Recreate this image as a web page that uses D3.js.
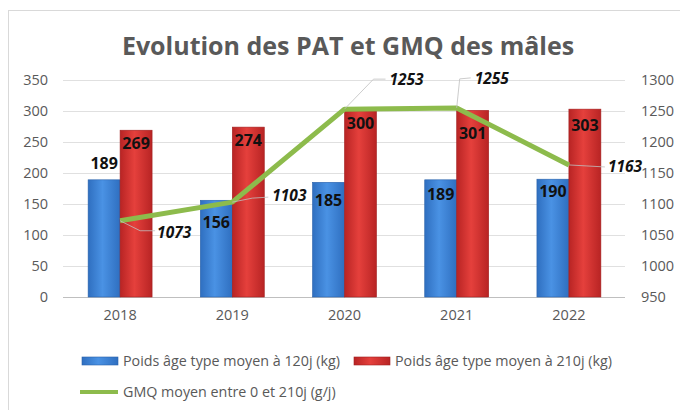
<!DOCTYPE html>
<html>
<head>
<meta charset="utf-8">
<script src="https://cdn.jsdelivr.net/npm/d3@7"></script>
<style>
  body { margin: 0; background: #fff; }
  svg { font-family: "Open Sans", "Liberation Sans", sans-serif; }
</style>
</head>
<body>
<div id="chart"></div>
<script>
// data
const years = ['2018', '2019', '2020', '2021', '2022'];
const poids120 = [189, 156, 185, 189, 190];
const poids210 = [269, 274, 300, 301, 303];
const gmq = [1073, 1103, 1253, 1255, 1163];
const leftTicks = [0, 50, 100, 150, 200, 250, 300, 350];
const rightTicks = [950, 1000, 1050, 1100, 1150, 1200, 1250, 1300];

const width = 680, height = 410;

const svg = d3.select('#chart').append('svg')
  .attr('width', width)
  .attr('height', height);

// gradients for the bars
const defs = svg.append('defs');
function barGradient(id, edge, mid) {
  const g = defs.append('linearGradient').attr('id', id)
    .attr('x1', '0%').attr('x2', '100%').attr('y1', '0%').attr('y2', '0%');
  g.append('stop').attr('offset', '0%').attr('stop-color', edge);
  g.append('stop').attr('offset', '45%').attr('stop-color', mid);
  g.append('stop').attr('offset', '100%').attr('stop-color', edge);
}
barGradient('gBlue', '#2f6fc0', '#4a92e4');
barGradient('gRed', '#b82424', '#e5403c');

// chart border
svg.append('rect')
  .attr('x', 8.5).attr('y', 10.5)
  .attr('width', 672).attr('height', 400)
  .attr('fill', 'none').attr('stroke', '#d9d9d9');

// title
svg.append('text')
  .attr('x', 348).attr('y', 55)
  .attr('text-anchor', 'middle')
  .attr('font-size', 25).attr('font-weight', 'bold')
  .attr('fill', '#595959')
  .text('Evolution des PAT et GMQ des mâles');

// scales
const x = d3.scaleBand().domain(years).range([64, 625]);
const xs = d3.scaleBand().domain(['p120', 'p210'])
  .range([x.bandwidth() * 0.215, x.bandwidth() * 0.785]);
const yL = d3.scaleLinear().domain([0, 350]).range([297, 80]);
const yR = d3.scaleLinear().domain([950, 1300]).range([297, 80]);

// grid
svg.append('g').selectAll('line')
  .data(leftTicks)
  .join('line')
  .attr('x1', 63).attr('x2', 625)
  .attr('y1', d => Math.round(yL(d)) + 0.5)
  .attr('y2', d => Math.round(yL(d)) + 0.5)
  .attr('stroke', d => d === 0 ? '#bfbfbf' : '#e0e0e0');

function styleAxis(g) {
  g.select('.domain').remove();
  g.selectAll('text')
    .attr('font-size', 14.5).attr('fill', '#595959')
    .attr('font-family', '"Open Sans", sans-serif');
}

// left axis
svg.append('g')
  .attr('transform', 'translate(48,0)')
  .call(d3.axisLeft(yL).tickValues(leftTicks).tickSize(0).tickPadding(0))
  .call(styleAxis);

// right axis
svg.append('g')
  .attr('transform', 'translate(641,0)')
  .call(d3.axisRight(yR).tickValues(rightTicks).tickFormat(d3.format('d')).tickSize(0).tickPadding(0))
  .call(styleAxis);

// bottom axis
svg.append('g')
  .attr('transform', 'translate(0,310)')
  .call(d3.axisBottom(x).tickSize(0).tickPadding(0))
  .call(styleAxis);

// bars
const groups = svg.append('g').selectAll('g')
  .data(years)
  .join('g')
  .attr('transform', d => `translate(${x(d)},0)`);

groups.append('rect')
  .attr('x', xs('p120'))
  .attr('width', xs.bandwidth())
  .attr('y', (d, i) => yL(poids120[i]))
  .attr('height', (d, i) => yL(0) - yL(poids120[i]))
  .attr('fill', 'url(#gBlue)')
  .attr('stroke', '#2a62aa').attr('stroke-width', 0.6);

groups.append('rect')
  .attr('x', xs('p210'))
  .attr('width', xs.bandwidth())
  .attr('y', (d, i) => yL(poids210[i]))
  .attr('height', (d, i) => yL(0) - yL(poids210[i]))
  .attr('fill', 'url(#gRed)')
  .attr('stroke', '#a21f1f').attr('stroke-width', 0.6);

// bar labels (dy from bar top to baseline)
const blueDy = [-11, 28, 24, 20, 18];
const redDy = [19, 19, 18, 29, 22];

groups.append('text')
  .attr('x', xs('p120') + xs.bandwidth() / 2)
  .attr('y', (d, i) => yL(poids120[i]) + blueDy[i])
  .attr('text-anchor', 'middle')
  .attr('font-size', 16).attr('font-weight', 'bold')
  .attr('fill', '#111')
  .text((d, i) => poids120[i]);

groups.append('text')
  .attr('x', xs('p210') + xs.bandwidth() / 2)
  .attr('y', (d, i) => yL(poids210[i]) + redDy[i])
  .attr('text-anchor', 'middle')
  .attr('font-size', 16).attr('font-weight', 'bold')
  .attr('fill', '#111')
  .text((d, i) => poids210[i]);

// GMQ line
const cx = d => x(d) + x.bandwidth() / 2;
const line = d3.line()
  .x((d, i) => cx(years[i]))
  .y(d => yR(d));

svg.append('path')
  .datum(gmq)
  .attr('d', line)
  .attr('fill', 'none')
  .attr('stroke', '#8dbb4c')
  .attr('stroke-width', 5)
  .attr('stroke-linejoin', 'round');

// line labels with leader lines: [elbow dx, elbow dy, end dx, end dy, text dx, text dy]
const leaders = [
  [20, 10, 35, 10, 37, 17],
  [20, -4, 36, -5, 40, -1],
  [29, -30, 41, -30, 45, -24],
  [3, -29, 14, -30, 18, -24],
  [18, 1, 36, 2, 39, 7]
];

const lab = svg.append('g').selectAll('g')
  .data(gmq)
  .join('g')
  .attr('transform', (d, i) => `translate(${cx(years[i])},${yR(d)})`);

lab.append('path')
  .attr('d', (d, i) => {
    const l = leaders[i];
    return `M0,0L${l[0]},${l[1]}L${l[2]},${l[3]}`;
  })
  .attr('fill', 'none')
  .attr('stroke', '#bfbfbf')
  .attr('stroke-width', 0.8);

lab.append('text')
  .attr('x', (d, i) => leaders[i][4])
  .attr('y', (d, i) => leaders[i][5])
  .attr('font-size', 15.5).attr('font-weight', 'bold')
  .attr('font-style', 'italic')
  .attr('fill', '#111')
  .text(d => d);

// legend
const legend = svg.append('g')
  .attr('font-size', 14.3).attr('fill', '#595959');

const legendItems = [
  { label: 'Poids âge type moyen à 120j (kg)', type: 'rect', fill: 'url(#gBlue)', stroke: '#2a62aa', x: 82, y: 361 },
  { label: 'Poids âge type moyen à 210j (kg)', type: 'rect', fill: 'url(#gRed)', stroke: '#a21f1f', x: 354, y: 361 },
  { label: 'GMQ moyen entre 0 et 210j (g/j)', type: 'line', x: 82, y: 392 }
];

legendItems.forEach(item => {
  if (item.type === 'rect') {
    legend.append('rect')
      .attr('x', item.x).attr('y', item.y - 4)
      .attr('width', 36).attr('height', 8)
      .attr('fill', item.fill).attr('stroke', item.stroke).attr('stroke-width', 0.6);
  } else {
    legend.append('line')
      .attr('x1', item.x - 2).attr('x2', item.x + 36)
      .attr('y1', item.y).attr('y2', item.y)
      .attr('stroke', '#8dbb4c').attr('stroke-width', 4);
  }
  legend.append('text')
    .attr('x', item.x + 41).attr('y', item.y + 5)
    .text(item.label);
});
</script>
</body>
</html>
